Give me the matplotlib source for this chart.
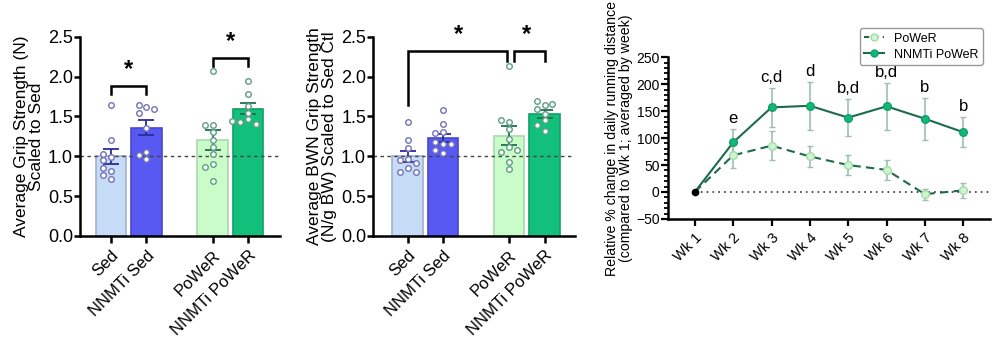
import numpy as np
import matplotlib
matplotlib.use("Agg")
import matplotlib.pyplot as plt
from matplotlib.lines import Line2D

plt.rcParams['font.family'] = ['Liberation Sans', 'DejaVu Sans']

# =========================
# DATA
# =========================
groups = ["Sed", "NNMTi Sed", "PoWeR", "NNMTi PoWeR"]

grip_mean = [1.00, 1.36, 1.20, 1.60]
grip_sem = [0.095, 0.09, 0.125, 0.075]
grip_pts = [
    [1.64, 1.21, 0.99, 1.03, 0.95, 0.82, 0.85, 0.77, 0.71],
    [1.62, 1.64, 1.59, 1.55, 1.35, 1.06, 1.02, 0.97],
    [2.07, 1.39, 1.39, 1.30, 1.21, 1.12, 1.03, 0.90, 0.86, 0.69],
    [1.94, 1.78, 1.63, 1.55, 1.47, 1.43, 1.40, 1.44],
]

bwn_mean = [1.00, 1.23, 1.26, 1.53]
bwn_sem = [0.07, 0.055, 0.12, 0.055]
bwn_pts = [
    [1.43, 1.21, 1.11, 0.97, 0.95, 0.92, 0.85, 0.80, 0.80],
    [1.58, 1.40, 1.31, 1.29, 1.16, 1.18, 1.15, 1.04, 1.08],
    [2.14, 1.43, 1.45, 1.34, 1.22, 1.12, 1.06, 1.08, 0.93, 0.84],
    [1.64, 1.69, 1.66, 1.60, 1.53, 1.45, 1.39, 1.32],
]

weeks = ["Wk 1", "Wk 2", "Wk 3", "Wk 4", "Wk 5", "Wk 6", "Wk 7", "Wk 8"]
power_pct = [0, 68, 86, 66, 50, 41, -4, 3]
power_err = [0, 23, 27, 20, 18, 18, 10, 14]
nnmti_pct = [0, 92, 157, 160, 138, 159, 136, 111]
nnmti_err = [0, 25, 36, 45, 35, 44, 39, 28]
letters = ["", "e", "c,d", "d", "b,d", "b,d", "b", "b"]

# =========================
# STYLE
# =========================
bar_x = np.array([0, 1, 2.86, 3.86])
bar_fc = ["#c6dcf6", "#5858f2", "#c9fcc9", "#12c07b"]
bar_ec = ["#a3b0cc", "#4848d0", "#a8d8b0", "#10a068"]
err_c = ["#2b2b9a", "#2b2b9a", "#1f7050", "#1f7050"]
pt_ec = ["#7272b8", "#7272b8", "#5f9e84", "#5f9e84"]


def swarm(vals, step=0.22, ytol=0.075):
    placed = []
    offs = []
    for v in vals:
        for c in [0, -1, 1, -2, 2]:
            if all(abs(v - pv) >= ytol or pc != c for pv, pc in placed):
                break
        placed.append((v, c))
        offs.append(c * step)
    return np.array(offs)


def bar_panel(ax, means, sems, pts, ylabel, xlim):
    for i in range(4):
        ax.bar(bar_x[i], means[i], width=0.86, color=bar_fc[i],
               edgecolor=bar_ec[i], linewidth=1.2, zorder=1)
        ax.errorbar(bar_x[i], means[i], yerr=sems[i], color=err_c[i],
                    capsize=5.5, capthick=1.3, elinewidth=1.3, zorder=3)
        off = swarm(pts[i])
        ax.scatter(bar_x[i] + off, pts[i], s=16, facecolor="white",
                   edgecolor=pt_ec[i], linewidth=1.0, zorder=4)
    ax.axhline(1.0, color="#444444", linestyle=(0, (2.5, 2.5)),
               linewidth=1.0, zorder=2)
    ax.set_xlim(*xlim)
    ax.set_ylim(0, 2.5)
    ax.set_yticks([0, 0.5, 1.0, 1.5, 2.0, 2.5])
    ax.set_yticklabels(["0.0", "0.5", "1.0", "1.5", "2.0", "2.5"])
    ax.set_xticks(bar_x)
    ax.set_xticklabels(groups, rotation=45, ha="right",
                       rotation_mode="anchor", fontsize=12)
    ax.tick_params(axis="y", labelsize=13, width=1.8, length=4, pad=1)
    ax.tick_params(axis="x", width=1.8, length=5)
    for s in ["top", "right"]:
        ax.spines[s].set_visible(False)
    for s in ["left", "bottom"]:
        ax.spines[s].set_linewidth(1.8)
    ax.set_ylabel(ylabel, fontsize=12.5, linespacing=1.0, labelpad=3)


def bracket(ax, x1, x2, top, l1, l2, star=True):
    ax.plot([x1, x1, x2, x2], [l1, top, top, l2], color="black",
            linewidth=1.8, solid_joinstyle="miter", clip_on=False)
    if star:
        ax.text((x1 + x2) / 2, top + 0.06, "*", ha="center", va="bottom",
                fontsize=17, fontweight="bold")


fig = plt.figure(figsize=(10, 3.41), dpi=100)

# =========================
# PANEL 1
# =========================
ax1 = fig.add_axes([0.08, 0.308, 0.20, 0.584])
bar_panel(ax1, grip_mean, grip_sem, grip_pts,
          "Average Grip Strength (N)\nScaled to Sed", (-0.87, 4.76))
bracket(ax1, bar_x[0], bar_x[1], 1.88, 1.78, 1.78)
bracket(ax1, bar_x[2], bar_x[3], 2.24, 2.14, 2.14)

# =========================
# PANEL 2
# =========================
ax2 = fig.add_axes([0.373, 0.308, 0.202, 0.584])
bar_panel(ax2, bwn_mean, bwn_sem, bwn_pts,
          "Average BWN Grip Strength\n(N/g BW) Scaled to Sed Ctl",
          (-0.98, 4.72))
bracket(ax2, bar_x[0], bar_x[2] - 0.05, 2.32, 1.64, 2.2, star=False)
ax2.text((bar_x[0] + bar_x[2]) / 2, 2.38, "*", ha="center", va="bottom",
         fontsize=17, fontweight="bold")
bracket(ax2, bar_x[2] + 0.13, bar_x[3], 2.32, 2.2, 2.2, star=False)
ax2.text((bar_x[2] + bar_x[3]) / 2, 2.38, "*", ha="center", va="bottom",
         fontsize=17, fontweight="bold")

# =========================
# PANEL 3
# =========================
ax3 = fig.add_axes([0.668, 0.358, 0.322, 0.474])
wx = np.arange(1, 9)
line_c = "#1d6a4c"
ebar_c = "#9ebfb0"

ax3.axhline(0, color="#333333", linestyle=(0, (1, 2.5)), linewidth=1.2,
            xmin=(1 - 0.3) / (8.7 - 0.3), zorder=1)

ax3.errorbar(wx[1:], power_pct[1:], yerr=power_err[1:], fmt="none",
             ecolor=ebar_c, elinewidth=1.2, capsize=2, zorder=2)
ax3.errorbar(wx[1:], nnmti_pct[1:], yerr=nnmti_err[1:], fmt="none",
             ecolor=ebar_c, elinewidth=1.2, capsize=2, zorder=2)
ax3.plot(wx, power_pct, color=line_c, linestyle=(0, (4, 2.5)),
         linewidth=1.5, zorder=3)
ax3.plot(wx[1:], power_pct[1:], linestyle="none", marker="o",
         markersize=5.5, markerfacecolor="#cbf7cb", markeredgecolor="#a8d8b0",
         zorder=4)
ax3.plot(wx, nnmti_pct, color=line_c, linewidth=1.5, zorder=3)
ax3.plot(wx[1:], nnmti_pct[1:], linestyle="none", marker="o",
         markersize=5.5, markerfacecolor="#12b877", markeredgecolor="#12a06a",
         zorder=5)
ax3.plot(wx[:1], nnmti_pct[:1], linestyle="none", marker="o",
         markersize=4.5, color="black", zorder=6)

for i, lab in enumerate(letters):
    if lab:
        ax3.annotate(lab, (wx[i], nnmti_pct[i] + nnmti_err[i]),
                     xytext=(0, 2), textcoords="offset points",
                     ha="center", va="bottom", fontsize=12)

ax3.set_xlim(0.3, 8.7)
ax3.set_ylim(-50, 250)
ax3.set_yticks(np.arange(-50, 251, 50))
ax3.set_yticks(np.arange(-50, 251, 10), minor=True)
ax3.set_xticks(wx)
ax3.set_xticklabels(weeks, rotation=45, ha="right", rotation_mode="anchor",
                    fontsize=10.5)
ax3.tick_params(axis="y", labelsize=10, width=1.6, length=5, pad=1)
ax3.tick_params(axis="y", which="minor", width=1.3, length=3)
ax3.tick_params(axis="x", width=1.6, length=5)
for s in ["top", "right"]:
    ax3.spines[s].set_visible(False)
for s in ["left", "bottom"]:
    ax3.spines[s].set_linewidth(1.8)
ax3.set_ylabel("Relative % change in daily running distance\n"
               "(compared to Wk 1; averaged by week)", fontsize=10.2,
               linespacing=1.0, labelpad=2)

handles = [
    Line2D([], [], color=line_c, linestyle=(0, (2.5, 2)), linewidth=1.5,
           marker="o", markersize=5, markerfacecolor="#cbf7cb",
           markeredgecolor="#a8d8b0"),
    Line2D([], [], color=line_c, linewidth=1.5, marker="o", markersize=5,
           markerfacecolor="#12b877", markeredgecolor="#12a06a"),
]
leg = fig.legend(handles, ["PoWeR", "NNMTi PoWeR"], loc="upper right",
                 bbox_to_anchor=(0.989, 0.935), fontsize=9,
                 handlelength=1.6, handletextpad=0.8, borderpad=0.35,
                 labelspacing=0.3, fancybox=True, framealpha=1)
leg.get_frame().set_edgecolor("#999999")
leg.get_frame().set_linewidth(1.0)

plt.savefig("out.png", dpi=100)
